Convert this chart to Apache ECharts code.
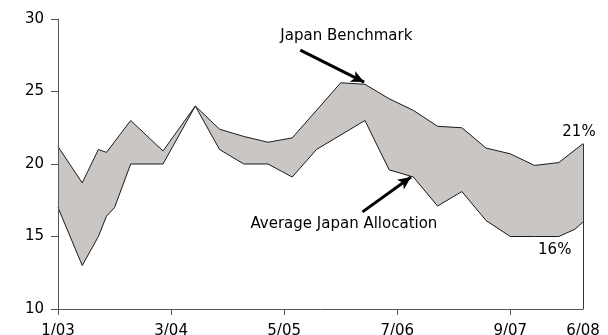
<!DOCTYPE html>
<html>
<head>
    <meta charset="utf-8">
    <title>Japan Benchmark vs Average Japan Allocation</title>
    <script src="https://cdn.jsdelivr.net/npm/echarts@6/dist/echarts.min.js"></script>
    <style>
        html, body {margin: 0; padding: 0; background: #fff;}
        #main {width: 608px; height: 335px;}
    </style>
</head>
<body>
<div id="main"></div>
<script>
    // x = months counted from 1/03
    var benchMonths = [0, 3, 5, 6, 9, 13, 17, 20, 23, 26, 29, 35, 38, 41, 44, 47, 50, 53, 56, 59, 62, 65];
    var benchValues = [21.2, 18.7, 21.0, 20.8, 23.0, 20.9, 24.0, 22.4, 21.9, 21.5, 21.8, 25.6, 25.5, 24.5, 23.7, 22.6, 22.5, 21.1, 20.7, 19.9, 20.1, 21.4];

    var allocMonths = [0, 3, 5, 6, 7, 9, 13, 17, 20, 23, 26, 29, 32, 38, 41, 44, 47, 50, 53, 56, 59, 62, 64, 65];
    var allocValues = [17.0, 13.0, 15.0, 16.4, 17.0, 20.0, 20.0, 24.0, 21.0, 20.0, 20.0, 19.1, 21.0, 23.0, 19.6, 19.1, 17.1, 18.1, 16.1, 15.0, 15.0, 15.0, 15.5, 16.0];

    var tickMonths = [0, 14, 28, 42, 56];
    var labelMonths = [0, 14, 28, 42, 56, 65];
    var tickLabels = ['1/03', '3/04', '5/05', '7/06', '9/07', '6/08'];

    var fillGray = '#cac6c4';
    var font = 'DejaVu Sans';

    function pairs(xs, ys) {
        var out = [];
        for (var i = 0; i < xs.length; i++) {
            out.push([xs[i], ys[i]]);
        }
        return out;
    }

    var benchData = pairs(benchMonths, benchValues);
    var allocData = pairs(allocMonths, allocValues);
    var lastMonth = benchMonths[benchMonths.length - 1];
    var lastBench = benchValues[benchValues.length - 1];

    function note(text, x, y) {
        return {
            coord: [x, y],
            symbolSize: 0,
            label: {
                show: true, position: 'inside', formatter: text,
                color: '#000', fontSize: 15, fontFamily: font
            }
        };
    }

    var myChart = echarts.init(document.getElementById('main'));

    var option = {
        animation: false,
        grid: {left: 58, right: 25, top: 19, bottom: 26, containLabel: false, outerBoundsMode: 'none'},
        xAxis: {
            type: 'value', min: 0, max: 65, z: 5,
            axisLine: {show: true, lineStyle: {color: '#555', width: 1}},
            axisTick: {show: true, length: 6, customValues: tickMonths, lineStyle: {color: '#555'}},
            axisLabel: {
                customValues: labelMonths, margin: 15,
                color: '#000', fontSize: 15, fontFamily: font,
                formatter: function (v) {
                    var i = labelMonths.indexOf(v);
                    return i >= 0 ? tickLabels[i] : '';
                }
            },
            splitLine: {show: false}
        },
        yAxis: {
            type: 'value', min: 10, max: 30, interval: 5, z: 5,
            axisLine: {show: true, lineStyle: {color: '#555', width: 1}},
            axisTick: {show: true, length: 7, lineStyle: {color: '#555'}},
            axisLabel: {margin: 14, color: '#000', fontSize: 15, fontFamily: font},
            splitLine: {show: false}
        },
        series: [
            {
                // band: benchmark filled down to the axis
                type: 'line', data: benchData, symbol: 'none', z: 1, silent: true,
                lineStyle: {width: 0},
                areaStyle: {color: fillGray, opacity: 1, origin: 'start'}
            },
            {
                // white under the allocation line so only the band stays gray
                type: 'line', data: allocData, symbol: 'none', z: 2, silent: true,
                lineStyle: {width: 0},
                areaStyle: {color: '#fff', opacity: 1, origin: 'start'}
            },
            {
                name: 'Japan Benchmark',
                type: 'line', data: benchData, symbol: 'none', z: 3, silent: true,
                lineStyle: {color: '#1a1a1a', width: 1},
                markLine: {
                    silent: true, animation: false,
                    label: {show: false},
                    data: [
                        [
                            {coord: [lastMonth, 10], symbol: 'none', lineStyle: {color: '#333', width: 1, type: 'solid'}},
                            {coord: [lastMonth, lastBench], symbol: 'none'}
                        ],
                        [
                            {coord: [30.0, 27.85], symbol: 'none', lineStyle: {color: '#000', width: 3, type: 'solid'}},
                            {coord: [37.9, 25.65], symbol: 'arrow', symbolSize: [9, 13]}
                        ],
                        [
                            {coord: [37.7, 16.7], symbol: 'none', lineStyle: {color: '#000', width: 3, type: 'solid'}},
                            {coord: [43.7, 19.1], symbol: 'arrow', symbolSize: [9, 13]}
                        ]
                    ]
                },
                markPoint: {
                    silent: true, animation: false, symbol: 'circle', symbolSize: 0,
                    data: [
                        note('Japan Benchmark', 35.7, 28.85),
                        note('Average Japan Allocation', 35.4, 15.85),
                        note('21%', 64.5, 22.2),
                        note('16%', 61.5, 14.05)
                    ]
                }
            },
            {
                name: 'Average Japan Allocation',
                type: 'line', data: allocData, symbol: 'none', z: 3, silent: true,
                lineStyle: {color: '#1a1a1a', width: 1}
            }
        ]
    };

    myChart.setOption(option);
</script>
</body>
</html>
